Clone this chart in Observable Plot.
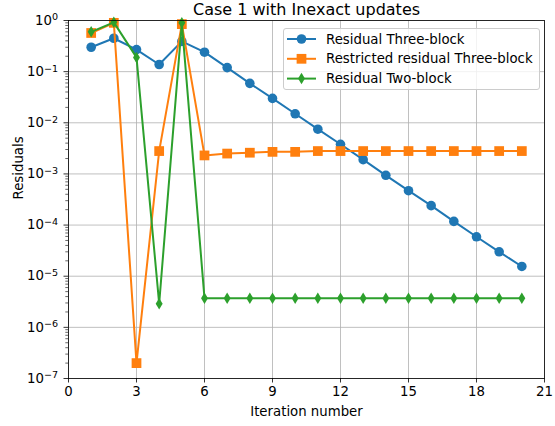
<!DOCTYPE html>
<html>
<head>
<meta charset="utf-8">
<script src="https://cdn.jsdelivr.net/npm/d3@7"></script>
<script src="https://cdn.jsdelivr.net/npm/@observablehq/plot@0.6"></script>
<style>
  body { margin: 0; background: white; }
  #chart { position: relative; width: 555px; height: 426px; font-family: "DejaVu Sans", sans-serif; }
  #legend { position: absolute; left: 283px; top: 28px; width: 257px; height: 62px;
            box-sizing: border-box; border: 1px solid #cccccc; border-radius: 3px;
            background: rgba(255,255,255,0.8); }
</style>
</head>
<body>
<div id="chart"></div>
<script>
// Iteration index and the three residual histories (log scale)
const iterations = [1, 2, 3, 4, 5, 6, 7, 8, 9, 10, 11, 12, 13, 14, 15, 16, 17, 18, 19, 20];
const residualThreeBlock = [0.30, 0.45, 0.27, 0.138, 0.39, 0.24, 0.12, 0.059, 0.030, 0.015,
  0.0075, 0.0038, 0.0019, 0.00094, 0.00047, 0.00024, 0.000118, 5.9e-5, 3.0e-5, 1.55e-5];
const restrictedThreeBlock = [0.57, 0.90, 2.0e-7, 0.0028, 0.85, 0.0023, 0.0025, 0.0026, 0.0027, 0.0027,
  0.0028, 0.0028, 0.0028, 0.0028, 0.0028, 0.0028, 0.0028, 0.0028, 0.0028, 0.0028];
const residualTwoBlock = [0.60, 0.92, 0.19, 2.9e-6, 0.90, 3.7e-6, 3.7e-6, 3.7e-6, 3.7e-6, 3.7e-6,
  3.7e-6, 3.7e-6, 3.7e-6, 3.7e-6, 3.7e-6, 3.7e-6, 3.7e-6, 3.7e-6, 3.7e-6, 3.7e-6];

const seriesNames = ["Residual Three-block", "Restricted residual Three-block", "Residual Two-block"];
const seriesColors = ["#1f77b4", "#ff7f0e", "#2ca02c"];

const xTicks = [0, 3, 6, 9, 12, 15, 18, 21];
const yTicks = [1e-7, 1e-6, 1e-5, 1e-4, 1e-3, 1e-2, 1e-1, 1];
const yMinorTicks = yTicks.slice(0, -1).flatMap(b => [2, 3, 4, 5, 6, 7, 8, 9].map(m => m * b));

const titleText = "Case 1 with Inexact updates";
const xLabel = "Iteration number";
const yLabel = "Residuals";

const fontSize = 13.3;

// Power-of-ten labels with superscript exponents
const sup = {"-": "\u207B", "0": "\u2070", "1": "\u00B9", "2": "\u00B2", "3": "\u00B3", "4": "\u2074",
  "5": "\u2075", "6": "\u2076", "7": "\u2077", "8": "\u2078", "9": "\u2079"};
const powFormat = d => "10" + String(Math.round(Math.log10(d))).split("").map(c => sup[c]).join("");

// Thin diamond marker (narrow in x)
const thinDiamond = {
  draw(context, size) {
    const r = Math.sqrt(size / Math.PI);
    const h = r * 1.2, w = r * 0.72;
    context.moveTo(0, -h); context.lineTo(w, 0); context.lineTo(0, h); context.lineTo(-w, 0); context.closePath();
  }
};

const table = (values) => iterations.map((x, i) => ({x, y: values[i]}));
const series = [
  {data: table(residualThreeBlock), symbol: "circle", r: 4.8},
  {data: table(restrictedThreeBlock), symbol: "square", r: 5.5},
  {data: table(residualTwoBlock), symbol: thinDiamond, r: 4.8}
];

const seriesMarks = series.flatMap((s, i) => [
  Plot.line(s.data, {x: "x", y: "y", stroke: seriesColors[i], strokeWidth: 2}),
  Plot.dot(s.data, {x: "x", y: "y", symbol: () => s.symbol, fill: seriesColors[i], stroke: "none", r: s.r})
]);

const plot = Plot.plot({
  width: 555,
  height: 426,
  marginTop: 20,
  marginRight: 11,
  marginBottom: 48,
  marginLeft: 68,
  style: {fontFamily: "DejaVu Sans, sans-serif", fontSize: fontSize + "px", background: "white", color: "black", overflow: "visible"},
  x: {domain: [0, 21]},
  y: {type: "log", domain: [1e-7, 1]},
  symbol: {type: "identity"},
  marks: [
    Plot.gridX(xTicks, {stroke: "#b0b0b0", strokeOpacity: 1, strokeWidth: 0.8}),
    Plot.gridY(yTicks, {stroke: "#b0b0b0", strokeOpacity: 1, strokeWidth: 0.8}),
    Plot.axisX(xTicks, {tickSize: 4.5, tickPadding: 4, label: null, fontSize, strokeWidth: 0.8}),
    Plot.axisY(yTicks, {tickSize: 4.5, tickPadding: 6, tickFormat: powFormat, label: null, fontSize, strokeWidth: 0.8}),
    Plot.axisY(yMinorTicks, {tickSize: 2.7, tickFormat: () => "", label: null, strokeWidth: 0.6}),
    ...seriesMarks,
    Plot.frame({stroke: "black", strokeWidth: 0.8}),
    Plot.text([titleText], {text: d => d, frameAnchor: "top", lineAnchor: "middle", dy: -11, fontSize: 16}),
    Plot.text([xLabel], {text: d => d, frameAnchor: "bottom", lineAnchor: "middle", dy: 33, fontSize}),
    Plot.text([yLabel], {text: d => d, frameAnchor: "left", dx: -50, rotate: -90, fontSize})
  ]
});

const chart = document.getElementById("chart");
chart.appendChild(plot);

// Typeset the y tick exponents as smaller raised text
const unsup = Object.fromEntries(Object.entries(sup).map(([k, v]) => [v, k === "-" ? "\u2212" : k]));
d3.select(plot).selectAll('g[aria-label="y-axis tick label"] text').each(function () {
  const label = this.textContent;
  if (!label.startsWith("10")) return;
  const exponent = label.slice(2).split("").map(c => unsup[c] ?? c).join("");
  const t = d3.select(this);
  t.text("10");
  t.append("tspan").attr("dy", "-0.45em").attr("font-size", "0.72em").text(exponent);
});

// Legend box with line + marker samples
const legend = d3.select(chart).append("div").attr("id", "legend");
const lsvg = legend.append("svg").attr("width", 255).attr("height", 60)
  .style("font-family", "DejaVu Sans, sans-serif").style("font-size", fontSize + "px");
const legendSymbols = [d3.symbolCircle, d3.symbolSquare, thinDiamond];
seriesNames.forEach((name, i) => {
  const g = lsvg.append("g").attr("transform", `translate(0,${10 + i * 19.8})`);
  g.append("line").attr("x1", 3).attr("x2", 32).attr("stroke", seriesColors[i]).attr("stroke-width", 2);
  const r = series[i].r;
  g.append("path").attr("transform", "translate(17.5,0)")
    .attr("d", d3.symbol(legendSymbols[i], Math.PI * r * r)()).attr("fill", seriesColors[i]);
  g.append("text").attr("x", 42).attr("dy", "0.35em").attr("fill", "black").text(name);
});
</script>
</body>
</html>
